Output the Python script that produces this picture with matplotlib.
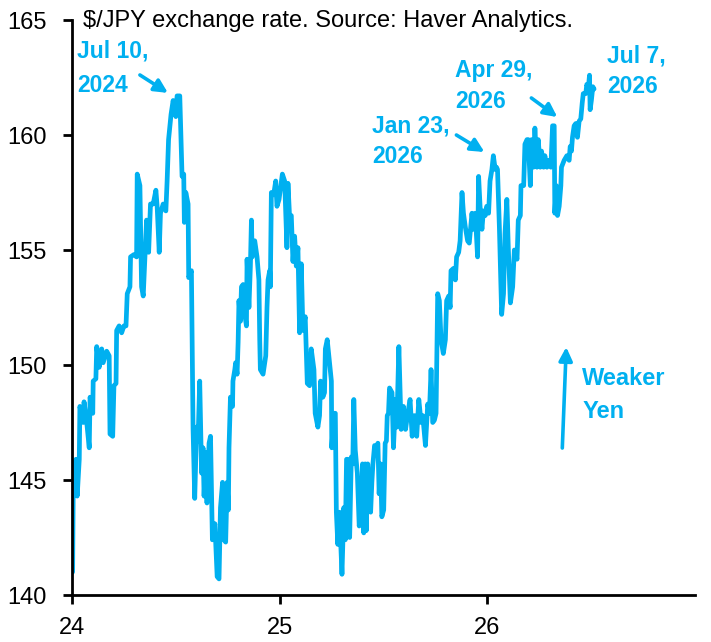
import matplotlib
matplotlib.use("Agg")
import matplotlib.pyplot as plt

# ---- data (decimal year, USD/JPY) ----
dates = [
    24.003, 24.006, 24.019, 24.025, 24.035, 24.038, 24.054, 24.058, 24.071, 24.083,
    24.087, 24.100, 24.102, 24.115, 24.119, 24.131, 24.143, 24.150, 24.167, 24.179,
    24.183, 24.196, 24.202, 24.212, 24.215, 24.227, 24.239, 24.250, 24.260, 24.266,
    24.279, 24.282, 24.298, 24.311, 24.314, 24.327, 24.335, 24.343, 24.351, 24.359,
    24.369, 24.378, 24.391, 24.404, 24.410, 24.420, 24.426, 24.439, 24.452, 24.458,
    24.465, 24.477, 24.487, 24.500, 24.506, 24.519, 24.530, 24.538, 24.541, 24.548,
    24.559, 24.562, 24.575, 24.583, 24.591, 24.600, 24.607, 24.615, 24.624, 24.631,
    24.636, 24.644, 24.650, 24.660, 24.667, 24.676, 24.688, 24.699, 24.708, 24.715,
    24.725, 24.731, 24.740, 24.747, 24.753, 24.756, 24.763, 24.773, 24.775, 24.784,
    24.788, 24.795, 24.800, 24.804, 24.811, 24.816, 24.824, 24.832, 24.840, 24.843,
    24.852, 24.859, 24.864, 24.868, 24.880, 24.891, 24.900, 24.904, 24.907, 24.920,
    24.933, 24.939, 24.944, 24.952, 24.955, 24.960, 24.971, 24.981, 24.987, 24.997,
    25.003, 25.013, 25.024, 25.035, 25.040, 25.048, 25.056, 25.064, 25.072, 25.080,
    25.088, 25.096, 25.104, 25.112, 25.123, 25.133, 25.144, 25.152, 25.165, 25.171,
    25.184, 25.192, 25.197, 25.208, 25.216, 25.220, 25.229, 25.240, 25.249, 25.251,
    25.261, 25.268, 25.273, 25.280, 25.288, 25.300, 25.309, 25.316, 25.322, 25.328,
    25.337, 25.345, 25.352, 25.357, 25.364, 25.374, 25.383, 25.393, 25.399, 25.405,
    25.412, 25.417, 25.424, 25.438, 25.444, 25.449, 25.457, 25.465, 25.473, 25.479,
    25.486, 25.492, 25.501, 25.508, 25.514, 25.518, 25.524, 25.529, 25.541, 25.548,
    25.558, 25.564, 25.574, 25.585, 25.596, 25.606, 25.617, 25.628, 25.638, 25.649,
    25.660, 25.670, 25.681, 25.689, 25.702, 25.713, 25.721, 25.729, 25.737, 25.745,
    25.753, 25.761, 25.769, 25.777, 25.788, 25.798, 25.804, 25.814, 25.821, 25.825,
    25.837, 25.846, 25.852, 25.862, 25.869, 25.878, 25.885, 25.894, 25.905, 25.913,
    25.926, 25.933, 25.942, 25.953, 25.958, 25.965, 25.974, 25.981, 25.990, 25.997,
    26.006, 26.013, 26.022, 26.029, 26.038, 26.044, 26.049, 26.058, 26.069, 26.078,
    26.085, 26.094, 26.101, 26.111, 26.122, 26.130, 26.143, 26.149, 26.159, 26.162,
    26.175, 26.181, 26.191, 26.197, 26.207, 26.213, 26.222, 26.229, 26.239, 26.245,
    26.255, 26.261, 26.271, 26.277, 26.287, 26.298, 26.306, 26.314, 26.322, 26.325,
    26.332, 26.338, 26.346, 26.354, 26.357, 26.370, 26.383, 26.394, 26.399, 26.405,
    26.410, 26.418, 26.426, 26.434, 26.442, 26.450, 26.457, 26.462, 26.474, 26.479,
    26.486, 26.492, 26.495, 26.501, 26.508, 26.514,
]
usdjpy = [
    141.0, 144.7, 145.9, 144.3, 145.9, 148.2, 147.5, 148.4, 147.5, 146.4,
    148.6, 147.9, 149.3, 149.4, 150.8, 149.9, 150.7, 150.1, 150.6, 150.4,
    147.0, 146.9, 149.1, 149.2, 151.5, 151.7, 151.4, 151.7, 151.7, 153.1,
    153.4, 154.7, 154.8, 154.7, 158.3, 157.8, 153.4, 153.0, 154.7, 156.3,
    154.9, 157.0, 157.0, 157.6, 156.9, 154.9, 156.6, 157.0, 156.7, 158.0,
    159.8, 160.9, 161.5, 160.8, 161.7, 161.7, 158.2, 158.3, 156.2, 157.5,
    157.0, 153.8, 154.1, 147.2, 144.2, 147.3, 146.7, 149.3, 145.3, 146.4,
    144.3, 146.2, 144.0, 146.6, 146.9, 142.4, 143.1, 140.8, 140.7, 143.8,
    144.9, 142.4, 142.3, 144.9, 143.7, 146.4, 148.6, 148.2, 149.3, 149.8,
    150.1, 149.6, 151.0, 152.8, 151.9, 153.4, 153.5, 152.2, 151.7, 154.6,
    152.5, 154.3, 156.3, 154.7, 155.4, 154.7, 153.7, 151.1, 149.8, 149.6,
    150.4, 152.5, 153.7, 154.1, 153.4, 157.5, 157.4, 158.0, 156.9, 157.2,
    157.6, 158.3, 158.0, 155.1, 157.9, 156.4, 156.5, 154.5, 155.6, 154.3,
    155.1, 151.4, 154.4, 151.5, 152.1, 149.2, 149.1, 150.7, 149.8, 147.9,
    147.3, 147.8, 149.3, 148.6, 148.8, 150.7, 151.1, 150.1, 149.3, 146.4,
    147.9, 147.9, 143.6, 142.2, 143.6, 140.9, 143.8, 142.4, 145.9, 145.9,
    142.5, 146.0, 145.7, 148.5, 146.3, 145.3, 143.0, 143.7, 145.7, 142.7,
    145.7, 142.8, 145.7, 143.6, 144.9, 145.7, 146.5, 146.4, 146.6, 144.4,
    145.7, 143.4, 143.7, 146.6, 146.7, 147.8, 147.9, 149.0, 148.8, 146.4,
    148.5, 147.3, 150.8, 147.2, 148.2, 147.2, 147.9, 148.5, 146.9, 147.8,
    146.9, 148.5, 147.5, 147.8, 146.5, 148.3, 147.9, 149.8, 147.5, 147.6,
    147.9, 153.1, 152.8, 151.1, 150.5, 151.1, 152.8, 153.0, 152.5, 154.1,
    154.2, 153.7, 154.7, 154.9, 155.4, 157.5, 156.6, 156.0, 155.4, 155.3,
    156.6, 155.9, 156.6, 154.7, 158.2, 156.9, 155.9, 156.7, 156.5, 156.9,
    156.6, 158.0, 158.5, 159.1, 158.5, 158.6, 158.5, 156.0, 152.2, 153.1,
    155.7, 157.2, 155.1, 152.7, 153.4, 155.0, 154.6, 156.3, 156.5, 157.8,
    157.8, 159.6, 159.8, 159.8, 157.8, 159.8, 158.6, 160.3, 158.6, 159.8,
    158.6, 159.3, 158.6, 159.1, 158.6, 158.9, 158.6, 160.4, 160.4, 156.6,
    157.8, 156.5, 156.9, 157.8, 158.6, 158.9, 159.1, 158.9, 159.5, 159.3,
    159.9, 160.4, 160.5, 159.9, 160.6, 160.7, 161.4, 161.8, 161.8, 162.2,
    162.0, 162.6, 161.1, 161.5, 162.1, 162.0,
]

x_ticks = [24, 25, 26]
x_tick_labels = ["24", "25", "26"]
y_ticks = [140, 145, 150, 155, 160, 165]

title = "$/JPY exchange rate. Source: Haver Analytics."
BLUE = "#00B0F0"
FONT = ["Liberation Sans", "DejaVu Sans"]
plt.rcParams["font.family"] = FONT

fig = plt.figure(figsize=(7.11, 6.42), dpi=100)
ax = fig.add_axes([72 / 711, 1 - 595 / 642, (695 - 72) / 711, (595 - 20) / 642])

ax.plot(dates, usdjpy, color=BLUE, lw=3.4, solid_joinstyle="round", solid_capstyle="round")

ax.set_xlim(24, 27)
ax.set_ylim(140, 165)
ax.set_xticks(x_ticks)
ax.set_xticklabels(x_tick_labels)
ax.set_yticks(y_ticks)
for s in ["top", "right"]:
    ax.spines[s].set_visible(False)
for s in ["left", "bottom"]:
    ax.spines[s].set_linewidth(2.0)
ax.tick_params(axis="both", direction="out", length=6.5, width=2.0, labelsize=17, colors="black")
ax.tick_params(axis="y", pad=12)
ax.tick_params(axis="x", pad=9)

ax.text(24.053, 164.70, title, fontsize=17, color="black", va="baseline", ha="left")

bold = dict(fontsize=16.5, fontweight="bold", color=BLUE, va="baseline", ha="left")
ax.text(24.024, 163.35, "Jul 10,", **bold)
ax.text(24.024, 161.87, "2024", **bold)
ax.text(25.447, 160.13, "Jan 23,", **bold)
ax.text(25.447, 158.78, "2026", **bold)
ax.text(25.846, 162.52, "Apr 29,", **bold)
ax.text(25.846, 161.17, "2026", **bold)
ax.text(26.577, 163.17, "Jul 7,", **bold)
ax.text(26.577, 161.83, "2026", **bold)
ax.text(26.457, 149.13, "Weaker", fontsize=17, fontweight="bold", color=BLUE, va="baseline", ha="left")
ax.text(26.457, 147.70, "Yen", fontsize=17, fontweight="bold", color=BLUE, va="baseline", ha="left")

arrow = dict(arrowstyle="-|>", color=BLUE, lw=2.6, mutation_scale=20, shrinkA=0, shrinkB=0)
for (x0, y0), (x1, y1) in [
    ((24.327, 162.61), (24.462, 161.83)),
    ((25.851, 160.00), (25.986, 159.26)),
    ((26.212, 161.61), (26.337, 160.78)),
    ((26.361, 146.39), (26.380, 150.78)),
]:
    ax.annotate("", xy=(x1, y1), xytext=(x0, y0), arrowprops=arrow)

fig.savefig("out.png", dpi=100)
